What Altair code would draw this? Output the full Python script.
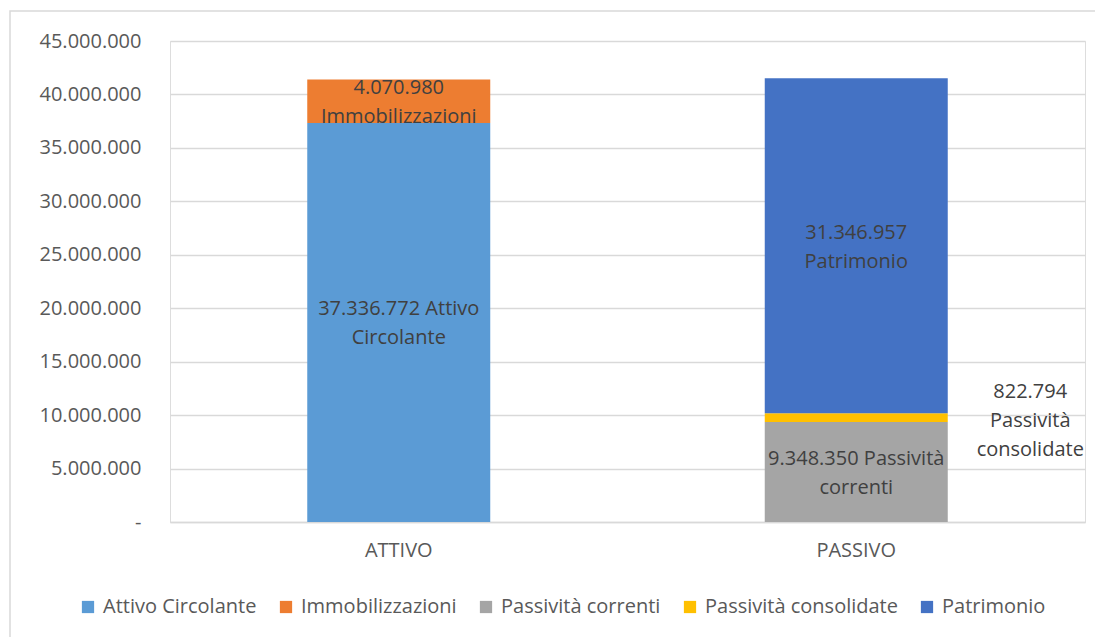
import altair as alt
import pandas as pd

categories = ["ATTIVO", "ATTIVO", "PASSIVO", "PASSIVO", "PASSIVO"]
series = ["Attivo Circolante", "Immobilizzazioni", "Passività correnti",
          "Passività consolidate", "Patrimonio"]
values = [37336772, 4070980, 9348350, 822794, 31346957]
order = [1, 2, 1, 2, 3]
label_names = [" Attivo\nCircolante", "\nImmobilizzazioni", " Passività\ncorrenti",
               "\nPassività\nconsolidate", "\nPatrimonio"]
colors = ["#5B9BD5", "#ED7D31", "#A5A5A5", "#FFC000", "#4472C4"]
y_ticks = [0, 5000000, 10000000, 15000000, 20000000, 25000000,
           30000000, 35000000, 40000000, 45000000]


def fmt(v):
    return f"{v:,}".replace(",", ".")


df = pd.DataFrame({
    "cat": categories,
    "serie": series,
    "value": values,
    "ord": order,
    "label": [fmt(v) + n for v, n in zip(values, label_names)],
    "side": [0, 0, 0, 1, 0],
})

FONT = "Open Sans"
FS = 20

base = alt.Chart(df).transform_stack(
    stack="value", groupby=["cat"], sort=[alt.SortField("ord")], as_=["v0", "v1"]
).transform_calculate(mid="(datum.v0 + datum.v1) / 2")

x = alt.X("cat:N", title=None,
          scale=alt.Scale(paddingInner=0.6, paddingOuter=0.3),
          axis=alt.Axis(labelAngle=0, ticks=False, domain=True, domainColor="#D9D9D9",
                        domainWidth=1.3, labelPadding=18, labelFontSize=FS,
                        labelColor="#595959", labelFont=FONT))

bars = base.mark_bar().encode(
    x=x,
    y=alt.Y("v0:Q", title=None,
            scale=alt.Scale(domain=[0, 45000000], nice=False),
            axis=alt.Axis(values=y_ticks, ticks=False, domain=False,
                          gridColor="#D9D9D9", gridWidth=1.3,
                          labelPadding=29, labelFontSize=FS, labelColor="#595959",
                          labelFont=FONT,
                          labelExpr="datum.value == 0 ? '-' : replace(format(datum.value, ','), /,/g, '.')")),
    y2="v1:Q",
    color=alt.Color("serie:N", title=None,
                    scale=alt.Scale(domain=series, range=colors),
                    legend=alt.Legend(orient="none", legendX=-92, legendY=556,
                                      direction="horizontal", columns=5,
                                      symbolType="square", symbolSize=150,
                                      symbolStrokeWidth=0, columnPadding=19,
                                      labelOffset=5, labelFontSize=FS,
                                      labelColor="#595959", labelFont=FONT,
                                      labelLimit=400)),
    order=alt.Order("ord:Q"),
)

labels_in = base.transform_filter("datum.side == 0").mark_text(
    lineBreak="\n", fontSize=FS, color="#404040", font=FONT, baseline="middle",
    lineHeight=29, dy=-13
).encode(x="cat:N", y="mid:Q", text="label:N")

labels_out = base.transform_filter("datum.side == 1").mark_text(
    lineBreak="\n", fontSize=FS, color="#404040", font=FONT, baseline="middle",
    lineHeight=29, dx=174, dy=-26
).encode(x="cat:N", y="mid:Q", text="label:N")

frame = alt.Chart(df).mark_rect(fill=None, stroke="#D9D9D9", strokeWidth=1.5).encode(
    x=alt.value(-160), x2=alt.value(960), y=alt.value(-30), y2=alt.value(640)
).transform_filter("datum.ord == 1 && datum.cat == 'ATTIVO'")

chart = alt.layer(frame, bars, labels_in, labels_out).properties(
    width=915, height=481,
    autosize=alt.AutoSizeParams(type="none"),
    padding={"left": 162, "top": 33, "right": 10, "bottom": 115},
).configure_view(stroke=None).configure(background="white")

chart.save("out.html", embed_options={"renderer": "svg", "actions": False})
